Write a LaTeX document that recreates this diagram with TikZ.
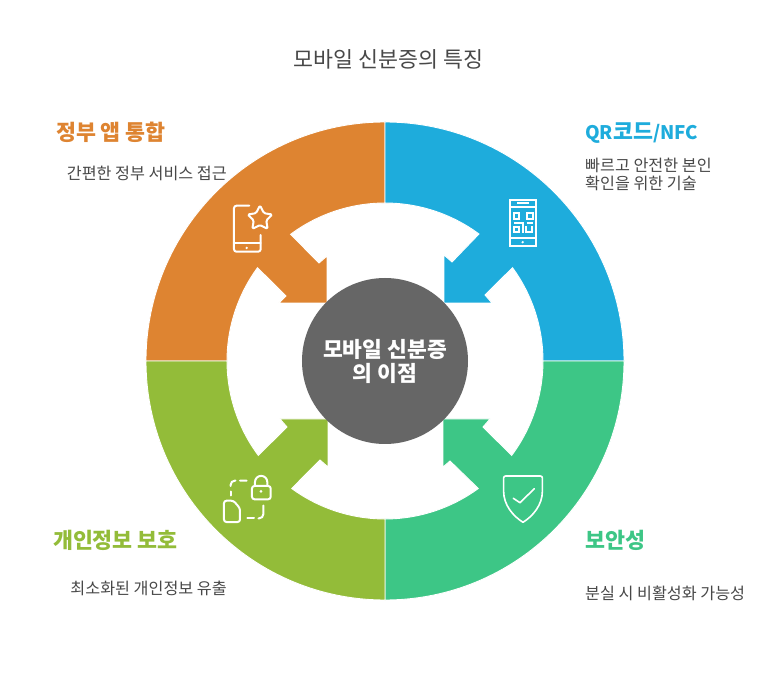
\documentclass[tikz,border=0pt]{standalone}
\usepackage{fontspec}
\setmainfont{Noto Sans CJK KR}
\definecolor{corange}{HTML}{DE8431}
\definecolor{cblue}{HTML}{1EACDC}
\definecolor{cgreen}{HTML}{3DC686}
\definecolor{colive}{HTML}{93BC39}
\definecolor{ccenter}{HTML}{666666}
\definecolor{ctext}{HTML}{484848}
\tikzset{
  wedge/.style={draw=white,line width=0.9pt,line join=miter},
  icon/.style={draw=white,line width=2pt,line cap=round,line join=round,fill=none},
  thinicon/.style={icon,line width=1.6pt},
  heading/.style={font=\fontsize{21.7}{26}\selectfont\bfseries,inner sep=0pt},
  desc/.style={font=\fontsize{16.2}{18}\selectfont,text=ctext,inner sep=0pt,align=left},
  pixels/.style={shift={(-385,361)},y=-1pt},
}
\begin{document}
\begin{tikzpicture}[x=1pt,y=1pt]
\useasboundingbox (-385,-313) rectangle (391,361);
\fill[white] (-385,-313) rectangle (391,361);
% wedges
\path[wedge,fill=corange] (-239,0) arc[start angle=180,end angle=90,radius=239] -- (0,158) arc[start angle=90,end angle=126.7,radius=158] -- (-66,98) -- (-58,105) -- (-58,58) -- (-106,58) -- (-99,65) -- (143.8:158) arc[start angle=143.8,end angle=180,radius=158] -- cycle;
\path[wedge,fill=cblue] (0,239) arc[start angle=90,end angle=0,radius=239] -- (158,0) arc[start angle=0,end angle=36.2,radius=158] -- (100,66) -- (107,58) -- (59,58) -- (59,106) -- (67,99) -- (53.5:158) arc[start angle=53.5,end angle=90,radius=158] -- cycle;
\path[wedge,fill=cgreen] (239,0) arc[start angle=0,end angle=-90,radius=239] -- (0,-158) arc[start angle=-90,end angle=-53.8,radius=158] -- (65,-100) -- (58,-106) -- (58,-58) -- (105,-58) -- (98,-66) -- (-36.7:158) arc[start angle=-36.7,end angle=0,radius=158] -- cycle;
\path[wedge,fill=colive] (0,-239) arc[start angle=-90,end angle=-180,radius=239] -- (-158,0) arc[start angle=180,end angle=216.7,radius=158] -- (-98,-66) -- (-105,-58) -- (-57,-58) -- (-57,-106) -- (-65,-99) -- (233.8:158) arc[start angle=233.8,end angle=270,radius=158] -- cycle;
% centre
\node[circle,fill=ccenter,minimum size=166pt,inner sep=0pt,align=center,text=white,font=\fontsize{21.5}{24}\selectfont\bfseries] (hub) at (0,0) {모바일 신분증\\의 이점};
% title
\node[font=\fontsize{21.7}{24}\selectfont,text=ctext,inner sep=0pt] (title) at (3.5,302) {모바일 신분증의 특징};
% labels
\node[heading,text=corange,anchor=east] (h1) at (-219,229) {정부 앱 통합};
\node[desc,anchor=east] (d1) at (-158,188) {간편한 정부 서비스 접근};
\node[heading,text=cblue,anchor=west] (h2) at (200,228) {{\fontsize{18.7}{26}\selectfont QR}코드{\fontsize{18.7}{26}\selectfont /NFC}};
\node[desc,anchor=west] (d2) at (200,187) {빠르고 안전한 본인\\확인을 위한 기술};
\node[heading,text=colive,anchor=east] (h3) at (-207,-179) {개인정보 보호};
\node[desc,anchor=east] (d3) at (-158,-227) {최소화된 개인정보 유출};
\node[heading,text=cgreen,anchor=west] (h4) at (200,-179) {보안성};
\node[desc,anchor=west] (d4) at (200,-232) {분실 시 비활성화 가능성};
% icons, in reference pixel coordinates
\begin{scope}[pixels]
% phone with star
\draw[icon,rounded corners=2.5pt] (249.3,205.7) -- (234,205.7) -- (234,251.7) -- (260.7,251.7) -- (260.7,235);
\draw[icon] (234,243.3) -- (260.7,243.3);
\fill[white] (246.7,248) circle[radius=1.3];
\draw[icon,rounded corners=1.5pt] (260,205.3) -- (263.9,213.2) -- (272.4,214.5) -- (266.2,220.4) -- (267.7,229) -- (260,225) -- (252.3,229) -- (253.8,220.4) -- (247.6,214.5) -- (256.1,213.2) -- cycle;
% phone with QR code
\draw[icon,line join=miter] (510,199.7) rectangle (536,246);
\draw[icon,line cap=butt] (510,206.7) -- (536,206.7) (510,238.3) -- (536,238.3);
\draw[icon,line cap=butt] (517.3,203.4) -- (529.3,203.4);
\fill[white] (522.7,242.2) circle[radius=1.3];
\draw[icon,line cap=butt,line join=miter] (513.5,213.5) rectangle (519,219) (527,213.5) rectangle (532.5,219) (513.5,227.5) rectangle (519,232.5);
\draw[icon,line cap=butt,line join=miter] (513.5,223.3) -- (522.7,223.3) -- (522.7,232.7) (526.7,223.3) -- (532.7,223.3) (526.2,226.5) -- (526.2,232.5) -- (531.8,232.5) -- (531.8,226.5);
% lock and file
\draw[icon,rounded corners=2.5pt] (252,486) rectangle (270.7,499.3);
\draw[icon] (255,486) -- (255,482) arc[start angle=180,end angle=0,x radius=6.15,y radius=-6.15] -- (267.3,486);
\fill[white] (261,491.3) circle[radius=1.5];
\draw[icon,rounded corners=4pt] (246.7,480.7) -- (240,480.7) (235.5,480.7) -- (230.7,480.7) -- (230.7,486);
\draw[icon] (230.7,491.5) -- (230.7,495.5) (247.3,518.3) -- (254,518.3);
\draw[icon,rounded corners=4pt] (263.3,505.5) -- (263.3,518.3) -- (258.5,518.3);
\draw[icon,rounded corners=2.5pt] (224,500.7) -- (233.5,500.7) -- (240,508.3) -- (240,522) -- (224,522) -- cycle;
% shield
\draw[thinicon] (503.6,478) arc[start angle=180,end angle=90,x radius=2,y radius=-2] -- (540.4,476) arc[start angle=90,end angle=0,x radius=2,y radius=-2] -- (542.4,491) .. controls (542.4,505) and (533,516) .. (523,522.3) .. controls (513,516) and (503.6,505) .. (503.6,491) -- cycle;
\draw[thinicon] (513.3,498.3) -- (520,502.7) -- (534.3,488.7);
\end{scope}
\end{tikzpicture}
\end{document}
